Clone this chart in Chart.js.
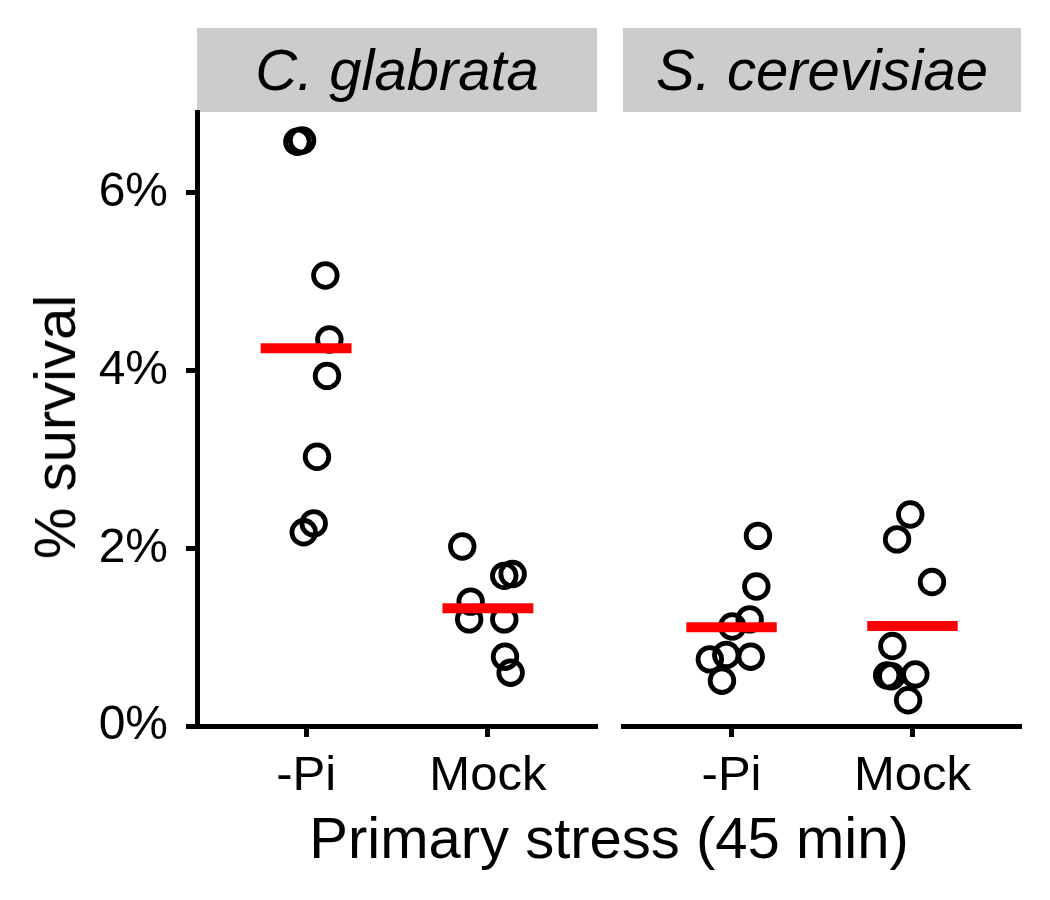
<!DOCTYPE html>
<html>
<head>
<meta charset="utf-8">
<script src="https://cdn.jsdelivr.net/npm/chart.js@4.4.0/dist/chart.umd.min.js"></script>
<style>
  body { margin: 0; background: #fff; font-family: 'Liberation Sans', Arial, sans-serif; }
  #wrap { position: relative; width: 1050px; height: 900px; overflow: hidden; }
  .panel { position: absolute; top: 100px; height: 700px; }
  .strip { position: absolute; top: 28px; height: 84px; background: #cccccc; color: #000;
           font-style: italic; font-size: 58px; line-height: 84px; text-align: center; }
  #xtitle { position: absolute; left: 197px; width: 824px; top: 838px; text-align: center; font-size: 58px;
            line-height: 1; transform: translateY(-50%); }
  #ytitle { position: absolute; left: 55px; top: 427px; font-size: 58px; white-space: nowrap; line-height: 1;
            transform: translate(-50%, -50%) rotate(-90deg); }
</style>
</head>
<body>
<div id="wrap">
  <div class="strip" style="left:197px;width:400px">C. glabrata</div>
  <div class="strip" style="left:623px;width:398px">S. cerevisiae</div>
  <div class="panel" style="left:0;width:600px"><canvas id="leftChart" width="600" height="700"></canvas></div>
  <div class="panel" style="left:600px;width:450px"><canvas id="rightChart" width="450" height="700"></canvas></div>
  <div id="ytitle">% survival</div>
  <div id="xtitle">Primary stress (45 min)</div>
</div>
<script>
// --- DATA ---
const stressGroups = ['-Pi', 'Mock'];
const yTicks = [0, 2, 4, 6];

// C. glabrata
const cgPiVals = [6.575, 6.59, 5.07, 4.35, 3.94, 3.03, 2.28, 2.18];
const cgPiJitter = [-0.048, -0.022, 0.106, 0.128, 0.115, 0.06, 0.042, -0.013];
const cgMockVals = [2.02, 1.69, 1.71, 1.40, 1.20, 1.20, 0.78, 0.60];
const cgMockJitter = [-0.141, 0.09, 0.136, -0.095, -0.103, 0.09, 0.094, 0.125];
const cgMeans = [4.25, 1.325];

// S. cerevisiae
const scPiVals = [2.14, 1.57, 1.20, 1.12, 0.75, 0.80, 0.78, 0.51];
const scPiJitter = [0.146, 0.137, 0.10, 0.004, -0.12, -0.029, 0.106, -0.053];
const scMockVals = [2.38, 2.10, 1.62, 0.90, 0.57, 0.56, 0.58, 0.29];
const scMockJitter = [-0.012, -0.085, 0.108, -0.111, -0.14, -0.117, 0.016, -0.024];
const scMeans = [1.11, 1.125];

const FONT = "'Liberation Sans', Arial, sans-serif";

function pts(vals, jit, pos) {
    return vals.map((v, i) => ({ x: pos + jit[i], y: v }));
}

function buildDatasets(piVals, piJit, mockVals, mockJit, means) {
    const ds = [];
    // mean bars, drawn over the points
    means.forEach((m, i) => {
        ds.push({
            type: 'line', data: [{ x: i + 1 - 0.25, y: m }, { x: i + 1 + 0.25, y: m }],
            borderColor: '#ff0000', borderWidth: 10, borderCapStyle: 'butt',
            pointRadius: 0, fill: false, order: 0
        });
    });
    ds.push({
        data: pts(piVals, piJit, 1).concat(pts(mockVals, mockJit, 2)),
        pointRadius: 11.8, pointBorderWidth: 4.8, pointBorderColor: '#000',
        pointBackgroundColor: 'rgba(0,0,0,0)', pointHoverRadius: 11.8, order: 1
    });
    return ds;
}

// no auto padding from tick labels: chart area stays where layout.padding puts it
function noPad(s) { s.paddingTop = 0; s.paddingBottom = 0; s.paddingLeft = 0; s.paddingRight = 0; }

function xScale() {
    return {
        type: 'linear', min: 0.4, max: 2.6,
        afterBuildTicks: s => { s.ticks = stressGroups.map((g, i) => ({ value: i + 1 })); },
        afterFit: s => { s.height = 74; noPad(s); },
        ticks: { callback: v => stressGroups[v - 1], color: '#000', font: { family: FONT, size: 49 }, padding: 10, maxRotation: 0, autoSkip: false },
        grid: { drawOnChartArea: false, drawTicks: true, tickLength: 11, tickWidth: 5, tickColor: '#000' },
        border: { display: true, color: '#000', width: 5 }
    };
}

function yScale(show) {
    return {
        type: 'linear', min: 0, max: 6.91, display: show,
        afterBuildTicks: s => { s.ticks = yTicks.map(v => ({ value: v })); },
        afterFit: s => { if (show) s.width = 197; noPad(s); },
        ticks: { callback: v => v + '%', color: '#000', font: { family: FONT, size: 48 }, padding: 18 },
        grid: { drawOnChartArea: false, drawTicks: true, tickLength: 11, tickWidth: 5, tickColor: '#000' },
        border: { display: true, color: '#000', width: 5 }
    };
}

function makeChart(id, datasets, showY, padding) {
    new Chart(document.getElementById(id), {
        type: 'scatter',
        data: { datasets: datasets },
        options: {
            responsive: false, animation: false, events: [],
            layout: { padding: padding, autoPadding: false },
            plugins: { legend: { display: false }, tooltip: { enabled: false } },
            scales: { x: xScale(), y: yScale(showY) }
        }
    });
}

makeChart('leftChart', buildDatasets(cgPiVals, cgPiJitter, cgMockVals, cgMockJitter, cgMeans), true,
    { top: 12, right: 3, left: 0, bottom: 0 });
makeChart('rightChart', buildDatasets(scPiVals, scPiJitter, scMockVals, scMockJitter, scMeans), false,
    { top: 12, right: 29, left: 23, bottom: 0 });
</script>
</body>
</html>
